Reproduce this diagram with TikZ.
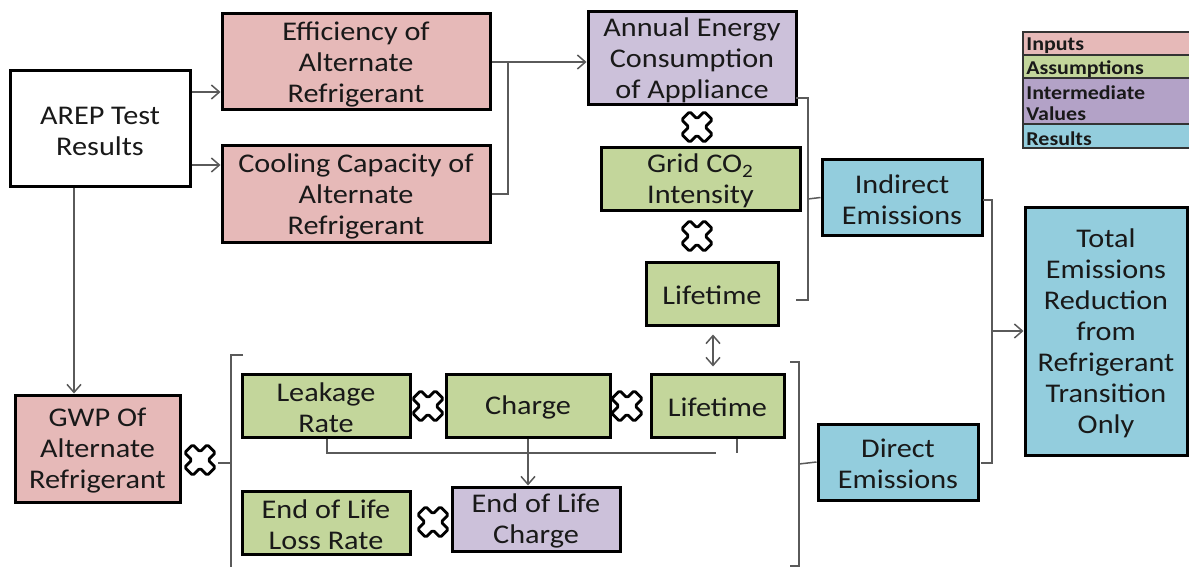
\documentclass[tikz,border=0pt]{standalone}
\usepackage{fontspec}
\setmainfont{Carlito}[FakeStretch=1.12]
\usetikzlibrary{arrows.meta}
\definecolor{cin}{HTML}{E6B9B8}
\definecolor{cas}{HTML}{C3D69B}
\definecolor{cim}{HTML}{CCC1DA}
\definecolor{cre}{HTML}{93CDDD}
\definecolor{lim}{HTML}{B3A2C7}
\definecolor{ln}{HTML}{5A5A5A}
\newcommand\mybox[7]{\node[box,#6,minimum width={(#4-#2)*0.5pt},minimum height={(#5-#3)*0.5pt}] (#1) at ({(#2+#4)/2},{(#3+#5)/2}) {\rule{0pt}{11.5pt}#7};}
\newcommand\mylegrow[6]{\node[legbox,#6,minimum width={(#4-#2)*0.5pt},minimum height={(#5-#3)*0.5pt}] (#1) at ({(#2+#4)/2},{(#3+#5)/2}) {};}
\begin{document}
\begin{tikzpicture}[x=0.5pt,y=-0.5pt,
  box/.style={draw=black,line width=1.5pt,align=center,inner sep=0pt,font=\fontsize{13.5}{15.5}\selectfont,text=black!90},
  inp/.style={fill=cin},
  asm/.style={fill=cas},
  imv/.style={fill=cim},
  res/.style={fill=cre},
  legbox/.style={draw=black!80,line width=0.7pt,inner sep=0pt},
  legtext/.style={anchor=west,inner sep=0pt,align=left,font=\fontsize{9.8}{10.8}\selectfont\bfseries,text=black!90},
  conn/.style={draw=ln,line width=0.75pt},
  arr/.style={conn,-{Straight Barb[length=4pt,width=7pt]}},
  dblarr/.style={conn,{Straight Barb[length=4pt,width=7pt]}-{Straight Barb[length=4pt,width=7pt]}},
  xm/.pic={\draw[black,line width=1.4pt,fill=white,rotate=45,scale=16,rounded corners=0.8pt,line join=round]
    (0.36,1)--(0.36,0.36)--(1,0.36)--(1,-0.36)--(0.36,-0.36)--(0.36,-1)--(-0.36,-1)--(-0.36,-0.36)--(-1,-0.36)--(-1,0.36)--(-0.36,0.36)--(-0.36,1)--cycle;}
]
\useasboundingbox (0,0) rectangle (1189,567);

% boxes
\mybox{arep}{10}{71}{190}{186}{fill=white}{AREP Test\\Results}
\mybox{eff}{222}{14}{490}{110}{inp}{Efficiency of\\Alternate\\Refrigerant}
\mybox{cool}{222}{146}{490}{242}{inp}{Cooling Capacity of\\Alternate\\Refrigerant}
\mybox{annual}{588}{12}{796}{105}{imv}{Annual Energy\\Consumption\\of Appliance}
\mybox{grid}{601}{148}{800}{210}{asm}{Grid CO\textsubscript{2}\\Intensity}
\mybox{lifeA}{646}{262}{778}{325}{asm}{Lifetime}
\mybox{indirect}{822}{160}{982}{235}{res}{Indirect\\Emissions}
\mybox{total}{1025}{207}{1187}{455}{res}{Total\\Emissions\\Reduction\\from\\Refrigerant\\Transition\\Only}
\mybox{gwp}{15}{395}{180}{502}{inp}{GWP Of\\Alternate\\Refrigerant}
\mybox{leak}{242}{374}{410}{437}{asm}{Leakage\\Rate}
\mybox{charge}{446}{374}{610}{437}{asm}{Charge}
\mybox{lifeB}{651}{374}{784}{437}{asm}{Lifetime}
\mybox{direct}{818}{424}{978}{500}{res}{Direct\\Emissions}
\mybox{eollr}{242}{491}{410}{554}{asm}{End of Life\\Loss Rate}
\mybox{eolc}{452}{487}{620}{551}{imv}{End of Life\\Charge}

% legend
\mylegrow{lgin}{1023}{32}{1192}{55}{fill=cin}
\mylegrow{lgas}{1023}{55}{1192}{78}{fill=cas}
\mylegrow{lgim}{1023}{78}{1192}{124}{fill=lim}
\mylegrow{lgre}{1023}{124}{1192}{148}{fill=cre}
\node[legtext] (tin) at (1026,46) {Inputs};
\node[legtext] (tas) at (1026,69) {Assumptions};
\node[legtext] (tim) at (1026,103) {Intermediate\\Values};
\node[legtext] (tre) at (1026,138.5) {Results};

% connectors
\draw[arr] (arep.east |- 0,92) -- (eff.west |- 0,92);
\draw[arr] (arep.east |- 0,165) -- (cool.west |- 0,165);
\draw[arr] (arep.south -| 74,0) -- (gwp.north -| 74,0);
\draw[arr] (eff.east) -- (annual.west |- eff.east);
\draw[conn] (cool.east) -- (cool.east -| 508,0) -- (508,62);
\draw[dblarr,shorten <=4pt,shorten >=3pt] (lifeA.south -| 713,0) -- (lifeB.north -| 713,0);
\draw[conn] (leak.south -| 327,0) -- (327,453) -- (716,453);
\draw[arr] (charge.south) -- (charge.south |- eolc.north);
\draw[conn] (lifeB.south -| 737,0) -- (737,453);

% brackets
\draw[conn] (796,98) -- (808,98) -- (808,300) -- (796,300);
\draw[conn] (808,199) -- (indirect.west);
\draw[conn] (790,362) -- (799,362) -- (799,566) -- (790,566);
\draw[conn] (799,464) -- (direct.west);
\draw[conn] (243,355) -- (231,355) -- (231,570);
\draw[conn] (231,463) -- (218,463);
\draw[conn] (983,200) -- (992,200) -- (992,463) -- (981,463);
\draw[arr] (992,331) -- (total.west);

% multiplication marks
\pic at (697,127) {xm};
\pic at (697,236) {xm};
\pic at (428,406) {xm};
\pic at (627,406) {xm};
\pic at (200,460) {xm};
\pic at (433,522) {xm};
\end{tikzpicture}
\end{document}
